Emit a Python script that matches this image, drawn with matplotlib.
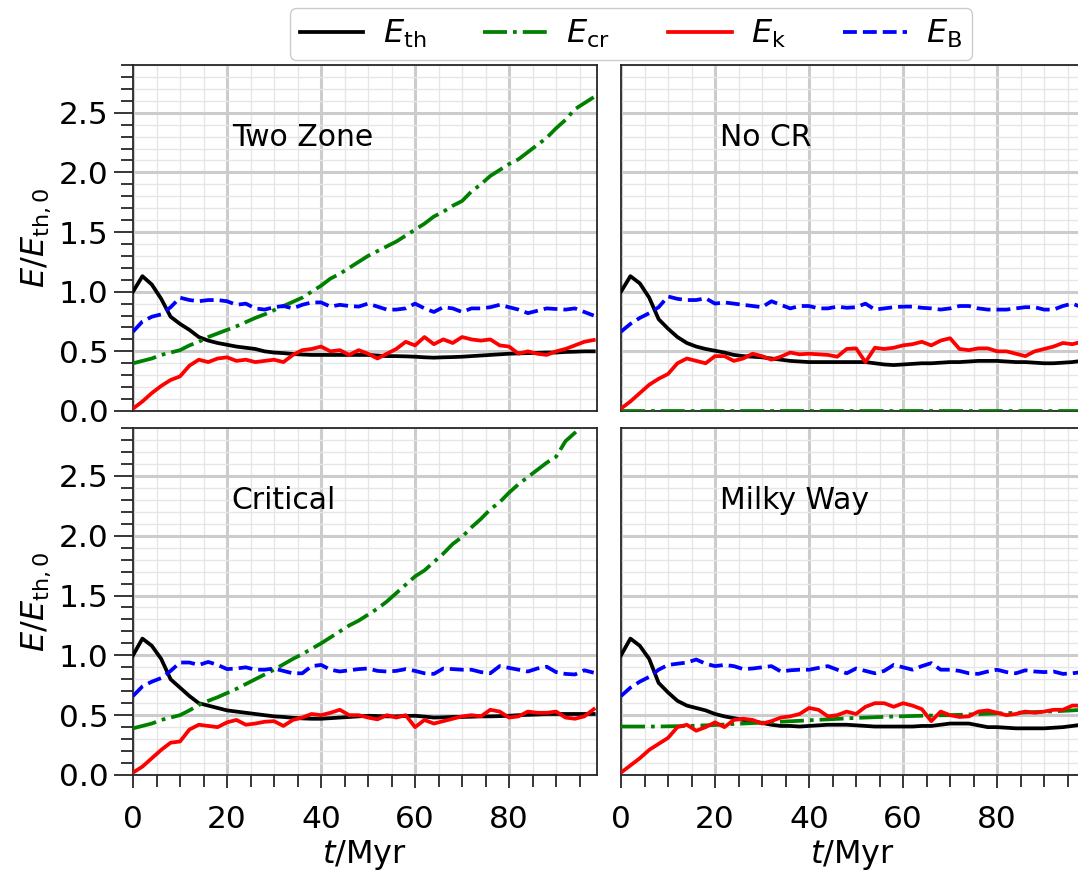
import numpy as np
import matplotlib
matplotlib.use("Agg")
import matplotlib.pyplot as plt
from matplotlib.ticker import MultipleLocator

plt.rcParams['font.family'] = ['DejaVu Sans']
plt.rcParams['mathtext.fontset'] = 'dejavusans'

# time in Myr
t = np.arange(0, 100, 2)

# --- Two Zone ---
tz_th = [1.00, 1.13, 1.06, 0.94, 0.79, 0.73, 0.68, 0.62, 0.59, 0.57,
         0.555, 0.54, 0.53, 0.52, 0.50, 0.49, 0.485, 0.478, 0.473, 0.47,
         0.47, 0.47, 0.47, 0.47, 0.47, 0.47, 0.465, 0.46, 0.46, 0.458,
         0.455, 0.45, 0.447, 0.45, 0.452, 0.455, 0.46, 0.465, 0.47, 0.475,
         0.48, 0.483, 0.485, 0.487, 0.49, 0.49, 0.495, 0.497, 0.50, 0.50]
tz_cr = [0.40, 0.42, 0.44, 0.47, 0.49, 0.51, 0.55, 0.58, 0.62, 0.65,
         0.68, 0.71, 0.745, 0.78, 0.81, 0.845, 0.88, 0.915, 0.95, 1.00,
         1.05, 1.11, 1.15, 1.20, 1.25, 1.30, 1.34, 1.38, 1.42, 1.47,
         1.52, 1.57, 1.63, 1.67, 1.72, 1.76, 1.84, 1.90, 1.97, 2.02,
         2.07, 2.11, 2.17, 2.23, 2.29, 2.37, 2.44, 2.53, 2.58, 2.63]
tz_k = [0.02, 0.08, 0.15, 0.21, 0.26, 0.29, 0.38, 0.43, 0.41, 0.44,
        0.45, 0.42, 0.43, 0.41, 0.42, 0.43, 0.41, 0.47, 0.51, 0.52,
        0.54, 0.50, 0.51, 0.47, 0.51, 0.48, 0.44, 0.48, 0.52, 0.58,
        0.55, 0.62, 0.56, 0.60, 0.57, 0.62, 0.60, 0.59, 0.60, 0.55,
        0.54, 0.48, 0.50, 0.48, 0.47, 0.50, 0.52, 0.55, 0.58, 0.595]
tz_b = [0.665, 0.75, 0.79, 0.81, 0.87, 0.95, 0.93, 0.92, 0.93, 0.93,
        0.92, 0.89, 0.90, 0.86, 0.85, 0.87, 0.88, 0.86, 0.89, 0.91,
        0.91, 0.875, 0.89, 0.88, 0.875, 0.90, 0.875, 0.85, 0.85, 0.86,
        0.90, 0.86, 0.83, 0.87, 0.86, 0.83, 0.86, 0.86, 0.87, 0.89,
        0.87, 0.85, 0.82, 0.84, 0.86, 0.855, 0.85, 0.86, 0.83, 0.80]

# --- No CR ---
nc_th = [1.00, 1.13, 1.07, 0.95, 0.77, 0.69, 0.62, 0.57, 0.54, 0.52,
         0.505, 0.49, 0.47, 0.46, 0.455, 0.45, 0.44, 0.43, 0.42, 0.415,
         0.41, 0.41, 0.41, 0.41, 0.41, 0.41, 0.41, 0.40, 0.39, 0.385,
         0.39, 0.395, 0.40, 0.40, 0.405, 0.41, 0.41, 0.415, 0.42, 0.42,
         0.42, 0.415, 0.41, 0.41, 0.405, 0.40, 0.40, 0.405, 0.41, 0.42]
nc_cr = [0.0, 0.0, 0.0, 0.0, 0.0, 0.0, 0.0, 0.0, 0.0, 0.0,
         0.0, 0.0, 0.0, 0.0, 0.0, 0.0, 0.0, 0.0, 0.0, 0.0,
         0.0, 0.0, 0.0, 0.0, 0.0, 0.0, 0.0, 0.0, 0.0, 0.0,
         0.0, 0.0, 0.0, 0.0, 0.0, 0.0, 0.0, 0.0, 0.0, 0.0,
         0.0, 0.0, 0.0, 0.0, 0.0, 0.0, 0.0, 0.0, 0.0, 0.0]
nc_k = [0.02, 0.08, 0.15, 0.22, 0.27, 0.31, 0.40, 0.44, 0.42, 0.40,
        0.46, 0.46, 0.42, 0.44, 0.48, 0.46, 0.43, 0.455, 0.49, 0.475,
        0.48, 0.475, 0.47, 0.455, 0.52, 0.525, 0.41, 0.53, 0.52, 0.53,
        0.55, 0.56, 0.58, 0.55, 0.59, 0.61, 0.52, 0.51, 0.525, 0.525,
        0.50, 0.50, 0.48, 0.46, 0.50, 0.52, 0.54, 0.57, 0.56, 0.58]
nc_b = [0.665, 0.73, 0.78, 0.82, 0.87, 0.96, 0.94, 0.93, 0.93, 0.945,
        0.90, 0.91, 0.90, 0.89, 0.88, 0.87, 0.92, 0.89, 0.86, 0.88,
        0.88, 0.86, 0.86, 0.875, 0.865, 0.87, 0.90, 0.85, 0.86, 0.87,
        0.875, 0.875, 0.865, 0.86, 0.85, 0.86, 0.88, 0.88, 0.86, 0.85,
        0.85, 0.85, 0.86, 0.87, 0.87, 0.85, 0.85, 0.88, 0.90, 0.87]

# --- Critical ---
cr_th = [1.00, 1.14, 1.08, 0.97, 0.80, 0.73, 0.66, 0.60, 0.58, 0.56,
         0.54, 0.53, 0.52, 0.51, 0.50, 0.49, 0.485, 0.478, 0.473, 0.47,
         0.47, 0.475, 0.48, 0.485, 0.49, 0.495, 0.493, 0.49, 0.49, 0.493,
         0.495, 0.488, 0.48, 0.482, 0.485, 0.485, 0.487, 0.49, 0.49, 0.492,
         0.495, 0.50, 0.503, 0.506, 0.51, 0.51, 0.51, 0.51, 0.51, 0.51]
cr_cr = [0.39, 0.41, 0.43, 0.46, 0.48, 0.50, 0.54, 0.585, 0.62, 0.65,
         0.685, 0.72, 0.76, 0.80, 0.84, 0.88, 0.925, 0.97, 1.01, 1.055,
         1.10, 1.15, 1.20, 1.25, 1.29, 1.34, 1.39, 1.45, 1.52, 1.59,
         1.66, 1.71, 1.78, 1.85, 1.93, 1.99, 2.07, 2.14, 2.22, 2.28,
         2.36, 2.43, 2.49, 2.55, 2.61, 2.66, 2.79, 2.86, 2.93, 3.00]
cr_k = [0.02, 0.07, 0.14, 0.21, 0.27, 0.28, 0.38, 0.42, 0.41, 0.40,
        0.44, 0.46, 0.42, 0.43, 0.445, 0.45, 0.41, 0.46, 0.48, 0.51,
        0.50, 0.52, 0.545, 0.50, 0.50, 0.48, 0.465, 0.50, 0.48, 0.50,
        0.40, 0.46, 0.43, 0.45, 0.47, 0.49, 0.50, 0.49, 0.545, 0.53,
        0.48, 0.49, 0.53, 0.52, 0.52, 0.53, 0.48, 0.47, 0.49, 0.55]
cr_b = [0.66, 0.74, 0.78, 0.81, 0.87, 0.94, 0.94, 0.92, 0.945, 0.92,
        0.885, 0.89, 0.90, 0.88, 0.88, 0.89, 0.87, 0.85, 0.85, 0.91,
        0.92, 0.88, 0.865, 0.875, 0.885, 0.89, 0.87, 0.865, 0.87, 0.885,
        0.87, 0.85, 0.845, 0.89, 0.885, 0.88, 0.88, 0.86, 0.85, 0.91,
        0.895, 0.88, 0.865, 0.89, 0.905, 0.86, 0.845, 0.84, 0.875, 0.855]

# --- Milky Way ---
mw_th = [1.00, 1.14, 1.08, 0.97, 0.77, 0.69, 0.62, 0.58, 0.56, 0.54,
         0.51, 0.49, 0.475, 0.46, 0.45, 0.435, 0.42, 0.41, 0.41, 0.405,
         0.41, 0.415, 0.42, 0.42, 0.42, 0.415, 0.41, 0.405, 0.405, 0.405,
         0.405, 0.405, 0.41, 0.41, 0.42, 0.43, 0.43, 0.43, 0.415, 0.40,
         0.40, 0.395, 0.39, 0.39, 0.39, 0.39, 0.395, 0.40, 0.41, 0.42]
mw_cr = [0.405, 0.405, 0.405, 0.405, 0.405, 0.407, 0.408, 0.41, 0.412, 0.415,
         0.418, 0.422, 0.426, 0.43, 0.434, 0.437, 0.441, 0.445, 0.449, 0.453,
         0.457, 0.461, 0.465, 0.469, 0.473, 0.477, 0.48, 0.483, 0.486, 0.489,
         0.491, 0.493, 0.495, 0.497, 0.499, 0.50, 0.503, 0.506, 0.509, 0.512,
         0.514, 0.517, 0.52, 0.523, 0.526, 0.529, 0.532, 0.536, 0.54, 0.545]
mw_k = [0.02, 0.08, 0.14, 0.21, 0.26, 0.31, 0.40, 0.42, 0.37, 0.40,
        0.44, 0.40, 0.46, 0.47, 0.46, 0.43, 0.45, 0.48, 0.49, 0.51,
        0.56, 0.545, 0.49, 0.50, 0.53, 0.51, 0.57, 0.60, 0.60, 0.57,
        0.60, 0.58, 0.55, 0.45, 0.53, 0.50, 0.485, 0.49, 0.53, 0.54,
        0.52, 0.50, 0.51, 0.53, 0.52, 0.53, 0.545, 0.545, 0.58, 0.58]
mw_b = [0.66, 0.73, 0.78, 0.82, 0.88, 0.92, 0.93, 0.94, 0.965, 0.93,
        0.91, 0.92, 0.91, 0.885, 0.89, 0.90, 0.91, 0.865, 0.875, 0.88,
        0.88, 0.895, 0.91, 0.88, 0.85, 0.89, 0.87, 0.85, 0.87, 0.92,
        0.90, 0.88, 0.91, 0.935, 0.88, 0.88, 0.87, 0.85, 0.845, 0.865,
        0.88, 0.86, 0.85, 0.875, 0.865, 0.86, 0.865, 0.845, 0.85, 0.86]

names = ["Two Zone", "No CR", "Critical", "Milky Way"]
runs = [(tz_th, tz_cr, tz_k, tz_b), (nc_th, nc_cr, nc_k, nc_b),
        (cr_th, cr_cr, cr_k, cr_b), (mw_th, mw_cr, mw_k, mw_b)]
labels = [r'$E_{\rm th}$', r'$E_{\rm cr}$', r'$E_{\rm k}$', r'$E_{\rm B}$']
styles = [('k', '-'), ('g', '-.'), ('r', '-'), ('b', '--')]

fig = plt.figure(figsize=(10.78, 8.74), dpi=100)
W, H = 1078., 874.
# panel boxes in pixels: left edge, bottom edge (from top), height
pos = [(133, 411, 346), (621, 411, 346), (133, 775, 347), (621, 775, 347)]
axes = []
for (x0, yb, h) in pos:
    axes.append(fig.add_axes([x0 / W, (H - yb) / H, 464 / W, h / H]))

for i, ax in enumerate(axes):
    for ser, lab, (c, ls) in zip(runs[i], labels, styles):
        ax.plot(t, ser, color=c, ls=ls, lw=2.7, label=lab, zorder=3)
    ax.set_xlim(0, 98.7)
    ax.set_ylim(0, 2.9)
    ax.xaxis.set_major_locator(MultipleLocator(20))
    ax.xaxis.set_minor_locator(MultipleLocator(5))
    ax.yaxis.set_major_locator(MultipleLocator(0.5))
    ax.yaxis.set_minor_locator(MultipleLocator(0.1))
    ax.grid(which='major', color='0.8', lw=2.2)
    ax.grid(which='minor', color='0.9', lw=1.0)
    ax.set_axisbelow(True)
    for sp in ax.spines.values():
        sp.set_linewidth(1.3)
        sp.set_color('0.15')
    ax.tick_params(axis='both', which='both', direction='out', labelsize=22.5,
                   color='0.15', width=1.3)
    ax.tick_params(axis='y', which='major', length=14)
    ax.tick_params(axis='y', which='minor', length=8.5)
    ax.tick_params(axis='x', which='major', length=9.5, pad=12)
    ax.tick_params(axis='x', which='minor', length=8.5)
    ax.text(0.213, 0.79, names[i], transform=ax.transAxes, fontsize=21.5,
            va='center', ha='left')
    if i % 2 == 1:
        ax.tick_params(axis='y', which='both', left=False, labelleft=False)
    else:
        ax.set_ylabel(r'$E/E_{\rm th,0}$', fontsize=23, labelpad=4)
    if i < 2:
        ax.tick_params(axis='x', which='both', bottom=False, labelbottom=False)
    else:
        ax.set_xlabel(r'$t/{\rm Myr}$', fontsize=23, labelpad=3)

handles, labs = axes[0].get_legend_handles_labels()
fig.legend(handles, labs, loc='center', bbox_to_anchor=(631 / W, 1 - 34 / H),
           ncol=4, fontsize=23, handlelength=2.0, columnspacing=1.8,
           handletextpad=0.6, borderpad=0.3, framealpha=1, edgecolor='0.8')

fig.savefig("out.png", dpi=100)
